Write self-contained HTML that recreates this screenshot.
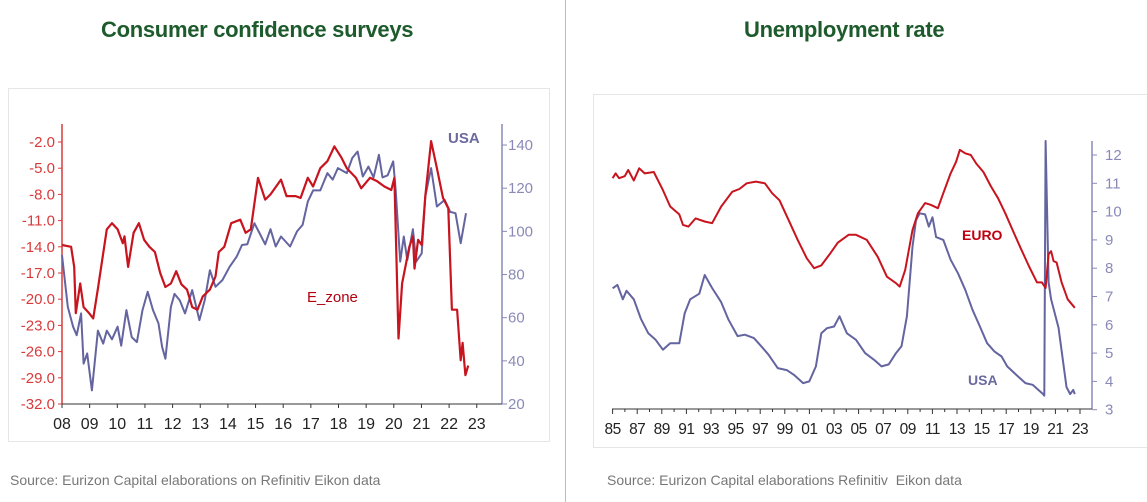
<!DOCTYPE html>
<html><head><meta charset="utf-8"><style>
body{margin:0;width:1147px;height:502px;background:#fff;overflow:hidden;font-family:"Liberation Sans",sans-serif;position:relative}
.t{position:absolute;font-weight:bold;color:#1d5a2c;font-size:22px;letter-spacing:-0.3px}
.src{position:absolute;color:#777;font-size:14px}
</style></head><body>
<div class="t" style="left:101px;top:17px">Consumer confidence surveys</div>
<div class="t" style="left:744px;top:17px">Unemployment rate</div>
<div style="position:absolute;left:565px;top:0;width:1px;height:502px;background:#bbb"></div>
<div class="src" style="left:10px;top:472px">Source: Eurizon Capital elaborations on Refinitiv Eikon data</div>
<div class="src" style="left:607px;top:472px">Source: Eurizon Capital elaborations Refinitiv&nbsp; Eikon data</div>
<svg id="svg" width="1147" height="502" style="position:absolute;left:0;top:0"></svg>
<script>
const ccYears=[2008,2009,2010,2011,2012,2013,2014,2015,2016,2017,2018,2019,2020,2021,2022,2023];
const ccLeftTicks=[-2,-5,-8,-11,-14,-17,-20,-23,-26,-29,-32];
const ccRightTicks=[140,120,100,80,60,40,20];
const ezT=[2008.00,2008.33,2008.44,2008.50,2008.66,2008.78,2008.98,2009.13,2009.30,2009.62,2009.81,2010.01,2010.20,2010.26,2010.39,2010.59,2010.78,2010.97,2011.16,2011.36,2011.55,2011.74,2011.94,2012.13,2012.32,2012.52,2012.71,2012.90,2013.09,2013.35,2013.55,2013.67,2013.87,2014.12,2014.45,2014.64,2014.83,2015.09,2015.35,2015.54,2015.92,2016.12,2016.44,2016.63,2016.89,2017.08,2017.34,2017.60,2017.85,2018.11,2018.30,2018.63,2018.82,2019.14,2019.40,2019.66,2019.91,2020.02,2020.17,2020.30,2020.56,2020.69,2020.75,2020.88,2021.01,2021.14,2021.35,2021.56,2021.78,2021.97,2022.10,2022.29,2022.42,2022.49,2022.59,2022.69];
const ezV=[-13.8,-14,-16.3,-21.6,-18.2,-20.9,-21.6,-22.2,-18.8,-12,-11.3,-12,-13.6,-12.8,-16.3,-12.4,-11.3,-13.2,-14,-14.6,-17,-18.6,-18.2,-16.8,-18.3,-18.9,-20.9,-21.2,-19.7,-18.9,-17.4,-14.6,-14,-11.3,-10.9,-12.4,-12,-6.1,-8.6,-8,-6.3,-8.2,-8.2,-8.4,-6.1,-7.1,-5,-4.2,-2.5,-3.8,-5,-6.1,-7.3,-6.1,-6.5,-7.1,-7.5,-6.1,-24.5,-18.2,-14,-12.8,-16.5,-13.2,-13.8,-8.2,-1.9,-5,-8.4,-9.6,-21.2,-21.2,-27,-25,-28.7,-27.6];
const usT=[2008.00,2008.21,2008.40,2008.53,2008.69,2008.78,2008.91,2009.08,2009.30,2009.49,2009.62,2009.81,2010.01,2010.14,2010.33,2010.52,2010.71,2010.91,2011.10,2011.29,2011.49,2011.62,2011.74,2011.94,2012.07,2012.26,2012.45,2012.71,2012.97,2013.16,2013.35,2013.55,2013.80,2014.06,2014.32,2014.51,2014.70,2014.96,2015.15,2015.35,2015.54,2015.73,2015.92,2016.25,2016.50,2016.70,2016.89,2017.08,2017.34,2017.60,2017.79,2017.98,2018.30,2018.50,2018.69,2018.88,2019.08,2019.27,2019.46,2019.59,2019.78,2019.98,2020.07,2020.23,2020.36,2020.49,2020.69,2020.81,2021.01,2021.14,2021.35,2021.56,2021.84,2022.04,2022.23,2022.42,2022.61];
const usV=[89,65,55.8,51.9,62,38.7,43.4,26.3,54,48,54,50,55.8,47,63.5,51,48.7,63.5,72,63.5,57.3,46.5,41,65,71,68,62,72.8,58.9,68,82,74.3,77.4,83.6,88.3,93.7,94,103.8,99,94,101,93,97.6,93,100,103,113.8,119,119,127,124,129.3,127,134,137,125.4,130,125,135.5,125,126,132.4,119,86,97.6,86.7,101,86,89.8,116.2,129.3,111.5,114.6,109,108.4,94.5,108.4];

const urYears=[1985,1987,1989,1991,1993,1995,1997,1999,2001,2003,2005,2007,2009,2011,2013,2015,2017,2019,2021,2023];
const urTicks=[12,11,10,9,8,7,6,5,4,3];
const euT=[1985.0,1985.24,1985.53,1985.98,1986.27,1986.72,1987.16,1987.61,1988.35,1989.09,1989.68,1990.42,1990.72,1991.16,1991.75,1992.49,1993.09,1993.83,1994.72,1995.31,1995.9,1996.64,1997.38,1997.97,1998.57,1999.31,2000.05,2000.79,2001.38,2001.97,2002.71,2003.31,2004.19,2004.79,2005.67,2006.56,2007.30,2008.04,2008.34,2008.79,2009.38,2009.82,2010.41,2010.86,2011.45,2011.89,2012.48,2012.93,2013.23,2013.67,2014.12,2014.56,2015.15,2015.75,2016.34,2016.93,2017.52,2018.12,2018.86,2019.5,2019.9,2020.2,2020.45,2020.65,2020.85,2021.1,2021.5,2022.0,2022.58];
const euV=[11.18,11.35,11.18,11.25,11.47,11.1,11.53,11.35,11.4,10.76,10.18,9.9,9.53,9.47,9.76,9.65,9.59,10.18,10.7,10.8,11,11.06,11,10.65,10.4,9.7,9,8.35,8,8.1,8.53,8.9,9.18,9.18,9,8.4,7.7,7.47,7.35,7.94,9.35,9.94,10.3,10.24,10.12,10.65,11.35,11.76,12.18,12.06,12,11.7,11.4,10.9,10.47,9.94,9.35,8.76,8.06,7.5,7.5,7.3,8.5,8.6,8.25,8.2,7.5,6.9,6.6];
const uuT=[1985.0,1985.39,1985.83,1986.13,1986.72,1987.31,1987.90,1988.50,1989.09,1989.68,1990.42,1990.86,1991.31,1992.05,1992.49,1993.09,1993.83,1994.42,1995.16,1995.75,1996.49,1997.09,1997.68,1998.42,1999.16,1999.75,2000.49,2000.99,2001.53,2001.97,2002.42,2003.01,2003.45,2004.05,2004.79,2005.53,2006.27,2006.86,2007.45,2008.04,2008.49,2008.93,2009.38,2009.67,2009.97,2010.41,2010.71,2011.01,2011.30,2011.89,2012.48,2013.08,2013.67,2014.26,2014.86,2015.45,2016.04,2016.63,2017.08,2017.82,2018.56,2019.15,2019.74,2020.0,2020.1,2020.2,2020.45,2020.65,2021.25,2021.9,2022.2,2022.45,2022.58];
const uuV=[7.29,7.41,6.9,7.2,6.9,6.2,5.7,5.47,5.12,5.35,5.35,6.41,6.9,7.1,7.76,7.3,6.8,6.18,5.6,5.65,5.53,5.24,4.94,4.47,4.4,4.23,3.94,4,4.53,5.7,5.88,5.94,6.3,5.7,5.47,5,4.76,4.53,4.6,5,5.24,6.3,8.76,9.7,9.94,9.9,9.47,9.8,9.1,9,8.3,7.82,7.24,6.53,5.94,5.35,5.06,4.88,4.53,4.23,3.94,3.88,3.65,3.55,3.5,14.7,7.5,6.9,5.9,3.8,3.55,3.7,3.55];

const svg=document.getElementById('svg');
const NS='http://www.w3.org/2000/svg';
function mk(tag,attrs,parent){const e=document.createElementNS(NS,tag);for(const k in attrs)e.setAttribute(k,attrs[k]);(parent||svg).appendChild(e);return e;}
const RED='#c8141e',BLUE='#6464a0',LRED='#d83a3a',LBLUE='#8a8ab8';

let p=mk('rect',{x:8.5,y:88.5,width:541,height:353,fill:'none',stroke:'#e6e6e6'});

p=mk('rect',{x:593.5,y:94.5,width:560,height:353,fill:'none',stroke:'#e6e6e6'});


const lx=y=>62+(y-2008)*27.65;
const lyL=v=>142+(-2-v)*8.733;
const lyR=v=>404-(v-20)*2.158;
let e;
e=mk('line',{x1:62,y1:124,x2:62,y2:404,stroke:LRED,'stroke-width':1.5});

e=mk('line',{x1:502,y1:124,x2:502,y2:404,stroke:LBLUE,'stroke-width':1.5});

e=mk('line',{x1:62,y1:404,x2:502,y2:404,stroke:'#333','stroke-width':1});

ccYears.forEach(y=>{
  mk('line',{x1:lx(y),y1:404,x2:lx(y),y2:408,stroke:'#333'});
  e=mk('text',{x:lx(y),y:429,'text-anchor':'middle','font-size':16,fill:'#222'});
  e.textContent=String(y%100).padStart(2,'0');
  
});
ccLeftTicks.forEach(v=>{
  mk('line',{x1:58,y1:lyL(v),x2:62,y2:lyL(v),stroke:LRED});
  e=mk('text',{x:55,y:lyL(v)+5,'text-anchor':'end','font-size':15,fill:LRED});
  e.textContent=v.toFixed(1);
  
});
ccRightTicks.forEach(v=>{
  mk('line',{x1:502,y1:lyR(v),x2:507,y2:lyR(v),stroke:LBLUE});
  e=mk('text',{x:508,y:lyR(v)+5,'font-size':15,fill:LBLUE});
  e.textContent=v;
  
});
function path(T,V,fx,fy,col,w){return mk('path',{d:T.map((t,i)=>(i?'L':'M')+fx(t).toFixed(1)+','+fy(V[i]).toFixed(1)).join(''),fill:'none',stroke:col,'stroke-width':w,'stroke-linejoin':'round'});}
e=path(usT,usV,lx,lyR,BLUE,2);

e=path(ezT,ezV,lx,lyL,RED,2.2);

e=mk('text',{x:307,y:302,'font-size':15,fill:'#b00010'});e.textContent='E_zone';

e=mk('text',{x:448,y:143,'font-size':15,'font-weight':'bold',fill:'#6a6aa0'});e.textContent='USA';


const rx=y=>612.6+(y-1985)*12.3;
const ry=v=>155+(12-v)*28.3;
const clipT=141;
const AX=1092;
e=mk('line',{x1:AX,y1:clipT,x2:AX,y2:409,stroke:LBLUE,'stroke-width':1.5});

e=mk('line',{x1:612,y1:409,x2:AX,y2:409,stroke:'#333'});

for(let y=1985;y<=2023;y++){mk('line',{x1:rx(y),y1:409,x2:rx(y),y2:(y%2?414:412),stroke:'#333'});}
urYears.forEach(y=>{
  e=mk('text',{x:rx(y),y:434,'text-anchor':'middle','font-size':15.5,fill:'#222','letter-spacing':'-0.5'});
  e.textContent=String(y%100).padStart(2,'0');
  
});
urTicks.forEach(v=>{
  mk('line',{x1:AX,y1:ry(v),x2:AX+5,y2:ry(v),stroke:LBLUE});
  e=mk('text',{x:AX+13,y:ry(v)+5,'font-size':15,fill:LBLUE});
  e.textContent=v;
  
});
const ryc=v=>Math.max(clipT,ry(v));
e=path(uuT,uuV,rx,ryc,BLUE,2);

e=path(euT,euV,rx,ry,RED,2);

e=mk('text',{x:962,y:240,'font-size':14,'font-weight':'bold',fill:'#c00010'});e.textContent='EURO';

e=mk('text',{x:968,y:385,'font-size':14,'font-weight':'bold',fill:'#6a6aa0'});e.textContent='USA';

</script>
</body></html>
